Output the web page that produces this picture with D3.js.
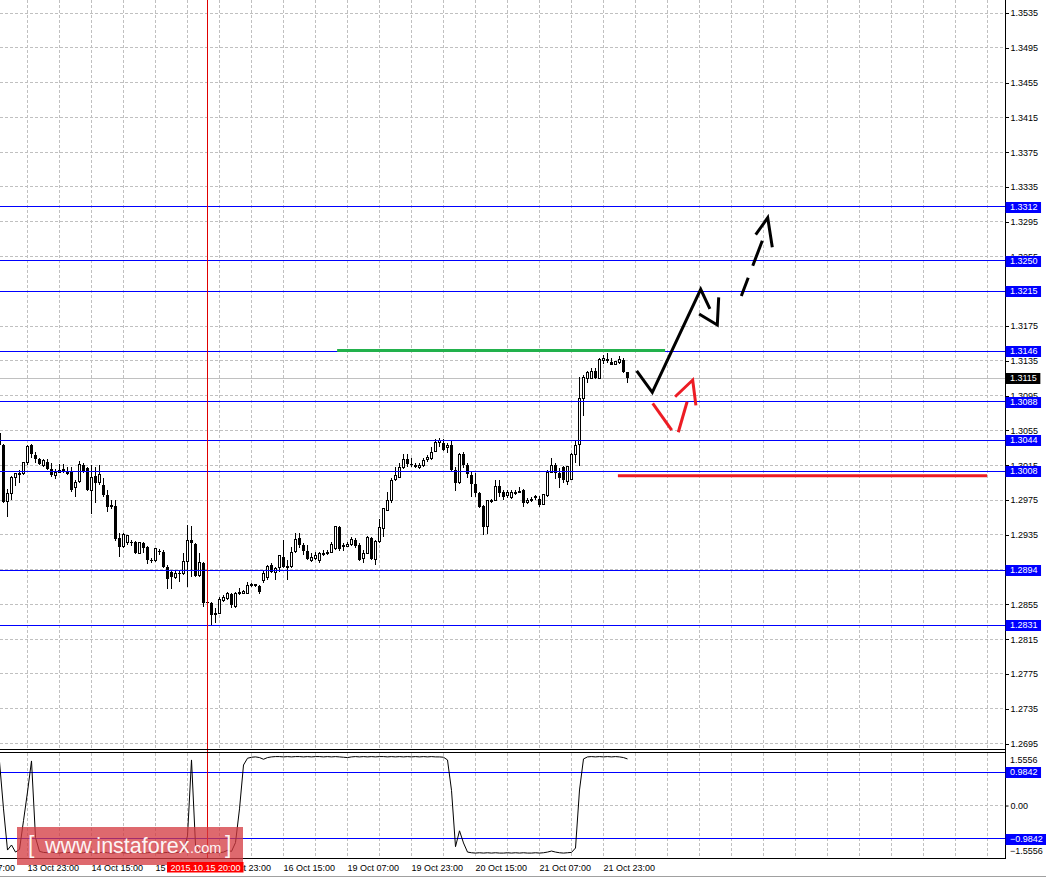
<!DOCTYPE html>
<html>
<head>
<meta charset="utf-8">
<script src="https://cdn.jsdelivr.net/npm/d3@7"></script>
<style>
body { margin: 0; background: #fff; }
svg { display: block; }
text { font-family: "Liberation Sans", Arial, sans-serif; }
</style>
</head>
<body>
<div id="chart"></div>
<script>
// hourly bars, first one is 13 Oct 16:00
var firstBarTime = "13 Oct 16:00";

var opens = [
1.3052,1.3038,1.2973,1.2983,1.3001,1.3005,1.3006,1.3018,1.3038,1.3027,
1.3022,1.3015,1.3019,1.3011,1.3003,1.3007,1.3011,1.3008,1.3007,1.2989,
1.2996,1.3015,1.3012,1.2986,1.3003,1.2995,1.2992,1.2981,1.2969,1.2968,
1.2931,1.2921,1.2926,1.2927,1.2927,1.2914,1.2926,1.2921,1.2906,1.2905,
1.2916,1.2915,1.2898,1.2892,1.2886,1.2891,1.2890,1.2904,1.2929,1.2924,
1.2888,1.2903,1.2858,1.2857,1.2844,1.2845,1.2860,1.2862,1.2867,1.2852,
1.2868,1.2868,1.2868,1.2877,1.2878,1.2876,1.2883,1.2886,1.2900,1.2892,
1.2897,1.2909,1.2898,1.2898,1.2916,1.2931,1.2923,1.2916,1.2906,1.2908,
1.2906,1.2913,1.2914,1.2915,1.2919,1.2944,1.2923,1.2922,1.2924,1.2929,
1.2923,1.2908,1.2914,1.2931,1.2907,1.2927,1.2942,1.2963,1.2975,1.2999,
1.3001,1.3012,1.3022,1.3016,1.3015,1.3012,1.3015,1.3022,1.3023,1.3031,
1.3041,1.3041,1.3035,1.3038,1.3009,1.2995,1.3028,1.3015,1.3004,1.2993,
1.2983,1.2968,1.2944,1.2974,1.2975,1.2991,1.2984,1.2980,1.2978,1.2983,
1.2984,1.2986,1.2972,1.2975,1.2978,1.2976,1.2970,1.2980,1.3007,1.3015,
1.3006,1.3013,1.2996,1.2999,1.3027,1.3039,1.3092,1.3115,1.3115,1.3123,
1.3115,1.3135,1.3136,1.3134,1.3131,1.3133,1.3136,1.3122];

var highs = [
1.3055,1.3039,1.2988,1.3003,1.3006,1.3009,1.3019,1.3038,1.3039,1.3030,
1.3023,1.3022,1.3022,1.3018,1.3011,1.3016,1.3016,1.3013,1.3013,1.2998,
1.3020,1.3018,1.3013,1.3015,1.3013,1.3015,1.3000,1.2986,1.2975,1.2975,
1.2937,1.2937,1.2935,1.2929,1.2928,1.2927,1.2927,1.2922,1.2908,1.2920,
1.2919,1.2917,1.2900,1.2894,1.2893,1.2894,1.2914,1.2946,1.2945,1.2926,
1.2914,1.2904,1.2860,1.2858,1.2851,1.2863,1.2866,1.2869,1.2868,1.2869,
1.2874,1.2871,1.2881,1.2880,1.2879,1.2877,1.2893,1.2900,1.2903,1.2898,
1.2912,1.2929,1.2906,1.2921,1.2937,1.2937,1.2926,1.2923,1.2914,1.2915,
1.2915,1.2917,1.2917,1.2927,1.2945,1.2945,1.2926,1.2927,1.2932,1.2931,
1.2926,1.2917,1.2934,1.2932,1.2929,1.2953,1.2966,1.2984,1.3000,1.3013,
1.3018,1.3028,1.3028,1.3023,1.3018,1.3018,1.3023,1.3027,1.3036,1.3045,
1.3046,1.3045,1.3041,1.3044,1.3013,1.3029,1.3030,1.3018,1.3007,1.3006,
1.2984,1.2969,1.2975,1.2976,1.2998,1.2998,1.2986,1.2986,1.2986,1.2986,
1.2990,1.2988,1.2977,1.2978,1.2981,1.2980,1.2982,1.3009,1.3023,1.3018,
1.3012,1.3014,1.3014,1.3029,1.3044,1.3116,1.3119,1.3123,1.3127,1.3127,
1.3138,1.3142,1.3144,1.3138,1.3135,1.3141,1.3138,1.3122];

var lows = [
1.3036,1.2972,1.2955,1.2975,1.2991,1.2995,1.3004,1.3015,1.3023,1.3018,
1.3015,1.3013,1.3009,1.3001,1.2999,1.3006,1.3006,1.3004,1.2984,1.2978,
1.2995,1.3006,1.2985,1.2959,1.2972,1.2992,1.2978,1.2961,1.2965,1.2928,
1.2909,1.2920,1.2923,1.2922,1.2913,1.2913,1.2914,1.2901,1.2903,1.2904,
1.2912,1.2897,1.2873,1.2873,1.2884,1.2881,1.2889,1.2875,1.2886,1.2886,
1.2886,1.2852,1.2855,1.2830,1.2834,1.2844,1.2858,1.2860,1.2851,1.2851,
1.2866,1.2867,1.2868,1.2875,1.2875,1.2867,1.2880,1.2883,1.2891,1.2883,
1.2892,1.2897,1.2883,1.2897,1.2914,1.2920,1.2912,1.2906,1.2904,1.2906,
1.2903,1.2911,1.2912,1.2914,1.2917,1.2916,1.2916,1.2921,1.2922,1.2920,
1.2905,1.2903,1.2913,1.2906,1.2900,1.2926,1.2932,1.2962,1.2972,1.2997,
1.3000,1.3011,1.3013,1.3013,1.3012,1.3011,1.3013,1.3019,1.3021,1.3030,
1.3036,1.3031,1.3029,1.3008,1.2985,1.2994,1.3012,1.3000,1.2978,1.2978,
1.2966,1.2935,1.2936,1.2972,1.2974,1.2978,1.2975,1.2977,1.2976,1.2981,
1.2983,1.2967,1.2970,1.2973,1.2975,1.2967,1.2969,1.2978,1.3006,1.2999,
1.2989,1.2995,1.2992,1.2998,1.3018,1.3014,1.3072,1.3110,1.3114,1.3114,
1.3114,1.3131,1.3133,1.3130,1.3130,1.3131,1.3121,1.3110];

var closes = [
1.3038,1.2973,1.2983,1.3001,1.3005,1.3006,1.3018,1.3037,1.3028,1.3022,
1.3016,1.3020,1.3011,1.3004,1.3007,1.3009,1.3007,1.3005,1.2986,1.2995,
1.3016,1.3008,1.2986,1.3001,1.2995,1.3004,1.2981,1.2967,1.2967,1.2930,
1.2921,1.2935,1.2934,1.2926,1.2914,1.2926,1.2920,1.2906,1.2905,1.2919,
1.2915,1.2898,1.2884,1.2886,1.2891,1.2890,1.2904,1.2928,1.2926,1.2888,
1.2903,1.2857,1.2857,1.2843,1.2845,1.2861,1.2863,1.2868,1.2854,1.2868,
1.2869,1.2870,1.2877,1.2878,1.2876,1.2869,1.2891,1.2899,1.2892,1.2896,
1.2911,1.2898,1.2899,1.2915,1.2930,1.2923,1.2916,1.2907,1.2909,1.2911,
1.2914,1.2914,1.2915,1.2924,1.2944,1.2919,1.2921,1.2924,1.2930,1.2922,
1.2906,1.2914,1.2932,1.2907,1.2927,1.2943,1.2965,1.2974,1.2998,1.3003,
1.3012,1.3022,1.3016,1.3015,1.3013,1.3015,1.3021,1.3024,1.3030,1.3041,
1.3043,1.3032,1.3038,1.3009,1.2995,1.3027,1.3015,1.3005,1.2993,1.2983,
1.2967,1.2944,1.2974,1.2975,1.2990,1.2983,1.2978,1.2984,1.2984,1.2984,
1.2985,1.2972,1.2975,1.2976,1.2979,1.2969,1.2981,1.3007,1.3015,1.3006,
1.3000,1.2998,1.3013,1.3027,1.3038,1.3092,1.3116,1.3122,1.3123,1.3115,
1.3137,1.3138,1.3137,1.3130,1.3134,1.3137,1.3122,1.3115];

var indicator = [
1.30,-0.10,-1.32,-1.17,-1.38,-1.30,-0.45,0.40,1.32,-0.95,
-1.36,-1.39,-1.40,-1.38,-1.40,-1.41,-1.39,-1.40,-1.38,-1.40,
-1.41,-1.40,-1.37,-1.39,-1.41,-1.40,-1.38,-1.40,-1.41,-1.40,
-1.39,-1.40,-1.41,-1.40,-1.38,-1.40,-1.41,-1.40,-1.39,-1.40,
-1.41,-1.40,-1.39,-1.41,-1.40,-1.38,-1.36,-0.90,1.35,-1.17,
-1.38,-1.40,-1.41,-1.40,-1.39,-1.40,-1.38,-1.33,-1.36,-1.10,
-0.10,1.20,1.40,1.43,1.44,1.42,1.37,1.42,1.44,1.45,
1.45,1.44,1.45,1.44,1.45,1.45,1.44,1.45,1.44,1.45,
1.45,1.44,1.45,1.44,1.45,1.44,1.43,1.42,1.44,1.45,
1.44,1.45,1.44,1.45,1.44,1.45,1.45,1.44,1.45,1.44,
1.45,1.44,1.45,1.44,1.45,1.44,1.45,1.44,1.45,1.44,
1.44,1.43,1.35,0.45,-1.22,-0.75,-1.11,-1.38,-1.40,-1.41,
-1.40,-1.41,-1.40,-1.41,-1.40,-1.41,-1.41,-1.40,-1.41,-1.40,
-1.41,-1.40,-1.41,-1.41,-1.40,-1.41,-1.40,-1.38,-1.35,-1.38,
-1.40,-1.41,-1.40,-1.39,-1.26,0.46,1.38,1.44,1.45,1.44,
1.45,1.44,1.45,1.44,1.45,1.44,1.42,1.38];

var priceTicks = [1.2695,1.2735,1.2775,1.2815,1.2855,1.2895,1.2935,1.2975,1.3015,1.3055,1.3095,
                  1.3135,1.3175,1.3215,1.3255,1.3295,1.3335,1.3375,1.3415,1.3455,1.3495,1.3535];
var levels = [1.3312,1.3250,1.3215,1.3146,1.3088,1.3044,1.3008,1.2894,1.2831];
var indLevels = [0.9842,-0.9842];
var indMax = 1.5556;
var timeLabels = ["13 Oct 07:00","13 Oct 23:00","14 Oct 15:00","15 Oct 07:00","15 Oct 23:00",
                  "16 Oct 15:00","19 Oct 07:00","19 Oct 23:00","20 Oct 15:00","21 Oct 07:00","21 Oct 23:00"];
var crossTime = "15 Oct 20:00";

// hand drawn marks, as [bar index, price]
var greenLine = [[100.4,1.3147],[182.4,1.3147]];
var redLine = [[170.6,1.3003],[262.9,1.3003]];
var blackPath1 = [[175.3,1.31234],[179.2,1.30989],[191.3,1.32173],[193.6,1.31947]];
var blackPath2 = [[190.9,1.31889],[195.45,1.31763],[195.8,1.32081]];
var blackDashed = [[201.45,1.32096],[206.7,1.32732]];
var blackHead = [[205.05,1.32801],[208.05,1.32996],[209.2,1.32656]];
var redPath1 = [[179.3,1.30862],[184.05,1.30555]];
var redPath2 = [[185.7,1.30529],[187.9,1.30880]];
var redHead = [[184.9,1.30938],[189.3,1.31130],[190.1,1.30839]];

var W = 1046, H = 879;
var plotRight = 1005.5;
var mainBottom = 749;
var indTop = 753, indBottom = 858;
var blue = "#0000ff";

function crisp(v){ return Math.round(v - 0.5) + 0.5; }

function drawChart(){
	var svg = d3.select("#chart").append("svg")
		.attr("width", W)
		.attr("height", H);

	// hourly timeline without weekends
	var barTimes = [];
	var t = Date.UTC(2015, 9, 13, 0);
	while (barTimes.length < 320) {
		var d = new Date(t);
		if (d.getUTCDay() != 0 && d.getUTCDay() != 6) barTimes.push(d);
		t += 3600000;
	}
	var fmtTime = d3.utcFormat("%d %b %H:%M");
	var keys = barTimes.map(fmtTime);
	function idx(label){ return keys.indexOf(label); }

	var first = idx(firstBarTime);
	var last = first + opens.length - 1;

	var x = d3.scaleLinear().domain([last - 1, last]).range([623.5, 627.5]);
	var y = d3.scaleLinear().domain([1.26887, 1.35500]).range([mainBottom, 0]);
	var yInd = d3.scaleLinear().domain([-indMax, indMax]).range([indBottom, indTop]);

	var bars = opens.map(function(o, i){
		return {i: first + i, o: o, h: highs[i], l: lows[i], c: closes[i], v: indicator[i]};
	});

	svg.append("defs").append("clipPath").attr("id", "mainclip")
		.append("rect").attr("x", 0).attr("y", 0).attr("width", plotRight).attr("height", mainBottom);
	svg.append("defs").append("clipPath").attr("id", "indclip")
		.append("rect").attr("x", 0).attr("y", indTop).attr("width", plotRight).attr("height", indBottom - indTop);

	// grid
	var grid = svg.append("g").attr("stroke", "#c0c0c0").attr("stroke-dasharray", "3,2").attr("shape-rendering", "crispEdges");
	var gridIdx = barTimes.map(function(d, i){ return i; }).filter(function(i){
		return barTimes[i].getUTCHours() % 8 == 7 && x(i) > 0 && x(i) < plotRight;
	});
	grid.selectAll(".vg").data(gridIdx).enter().append("line")
		.attr("x1", function(i){ return x(i); }).attr("x2", function(i){ return x(i); })
		.attr("y1", 0).attr("y2", mainBottom);
	grid.selectAll(".vgi").data(gridIdx).enter().append("line")
		.attr("x1", function(i){ return x(i); }).attr("x2", function(i){ return x(i); })
		.attr("y1", indTop).attr("y2", indBottom);
	grid.selectAll(".hg").data(priceTicks).enter().append("line")
		.attr("x1", 0).attr("x2", plotRight)
		.attr("y1", function(p){ return crisp(y(p)); }).attr("y2", function(p){ return crisp(y(p)); });
	grid.append("line").attr("x1", 0).attr("x2", plotRight)
		.attr("y1", crisp(yInd(0))).attr("y2", crisp(yInd(0)));

	var g = svg.append("g").attr("clip-path", "url(#mainclip)");

	// bid line
	var lastClose = closes[closes.length - 1];
	g.append("line").attr("x1", 0).attr("x2", plotRight)
		.attr("y1", crisp(y(lastClose))).attr("y2", crisp(y(lastClose)))
		.attr("stroke", "#c0c0c0").attr("shape-rendering", "crispEdges");

	// candles
	var candle = g.append("g").attr("shape-rendering", "crispEdges")
		.selectAll("g").data(bars).enter().append("g");
	candle.append("line")
		.attr("x1", function(d){ return x(d.i); }).attr("x2", function(d){ return x(d.i); })
		.attr("y1", function(d){ return y(d.h); }).attr("y2", function(d){ return y(d.l); })
		.attr("stroke", "#000");
	candle.append("rect")
		.attr("x", function(d){ return (d.c > d.o) ? x(d.i) - 1 : x(d.i) - 1.5; })
		.attr("y", function(d){ return y(Math.max(d.o, d.c)); })
		.attr("width", function(d){ return (d.c > d.o) ? 2 : 3; })
		.attr("height", function(d){ return Math.max(1, y(Math.min(d.o, d.c)) - y(Math.max(d.o, d.c))); })
		.attr("fill", function(d){ return (d.c > d.o) ? "#fff" : "#000"; })
		.attr("stroke", function(d){ return (d.c > d.o) ? "#000" : "none"; });

	// horizontal levels
	g.selectAll(".lvl").data(levels).enter().append("line")
		.attr("x1", 0).attr("x2", plotRight)
		.attr("y1", function(p){ return crisp(y(p)); }).attr("y2", function(p){ return crisp(y(p)); })
		.attr("stroke", blue).attr("shape-rendering", "crispEdges");

	// drawings
	var line = d3.line().x(function(d){ return x(d[0]); }).y(function(d){ return y(d[1]); });
	g.append("path").attr("d", line(greenLine)).attr("stroke", "#22b14c").attr("stroke-width", 3).attr("fill", "none");
	g.append("path").attr("d", line(redLine)).attr("stroke", "#ed1c24").attr("stroke-width", 3).attr("fill", "none");
	[blackPath1, blackPath2, blackHead].forEach(function(p){
		g.append("path").attr("d", line(p)).attr("stroke", "#000").attr("stroke-width", 3).attr("fill", "none");
	});
	g.append("path").attr("d", line(blackDashed)).attr("stroke", "#000").attr("stroke-width", 3)
		.attr("stroke-dasharray", "19.5,12.8,27,100").attr("fill", "none");
	[redPath1, redPath2, redHead].forEach(function(p){
		g.append("path").attr("d", line(p)).attr("stroke", "#ed1c24").attr("stroke-width", 3).attr("fill", "none");
	});

	// indicator panel
	var gi = svg.append("g").attr("clip-path", "url(#indclip)");
	gi.selectAll(".il").data(indLevels).enter().append("line")
		.attr("x1", 0).attr("x2", plotRight)
		.attr("y1", function(v){ return crisp(yInd(v)); }).attr("y2", function(v){ return crisp(yInd(v)); })
		.attr("stroke", blue).attr("shape-rendering", "crispEdges");
	var indLine = d3.line().x(function(d){ return x(d.i); }).y(function(d){ return yInd(d.v); });
	gi.append("path").attr("d", indLine(bars)).attr("stroke", "#000").attr("stroke-width", 1).attr("fill", "none");

	// crosshair
	var cx = x(idx(crossTime));
	svg.append("line").attr("x1", cx).attr("x2", cx).attr("y1", 0).attr("y2", indBottom)
		.attr("stroke", "#e00000").attr("shape-rendering", "crispEdges");

	// frames
	var frame = svg.append("g").attr("stroke", "#000").attr("shape-rendering", "crispEdges");
	frame.append("line").attr("x1", 0).attr("x2", plotRight).attr("y1", mainBottom + 0.5).attr("y2", mainBottom + 0.5);
	frame.append("line").attr("x1", 0).attr("x2", plotRight).attr("y1", indTop - 0.5).attr("y2", indTop - 0.5);
	frame.append("line").attr("x1", 0).attr("x2", plotRight).attr("y1", indBottom + 0.5).attr("y2", indBottom + 0.5);
	frame.append("line").attr("x1", plotRight).attr("x2", plotRight).attr("y1", 0).attr("y2", indBottom + 0.5);
	svg.append("line").attr("x1", 0).attr("x2", W).attr("y1", 876.5).attr("y2", 876.5)
		.attr("stroke", "#a0a0a0").attr("shape-rendering", "crispEdges");

	// price axis
	var axis = d3.axisRight(y).tickValues(priceTicks).tickFormat(d3.format(".4f"))
		.tickSize(3).tickPadding(2).tickSizeOuter(0);
	var ga = svg.append("g").attr("transform", "translate(" + plotRight + ",0)").call(axis);
	ga.select(".domain").remove();
	ga.attr("font-family", "Liberation Sans, Arial, sans-serif").attr("font-size", 9);
	ga.selectAll("line").attr("shape-rendering", "crispEdges");

	// indicator axis
	var ia = d3.axisRight(yInd).tickValues([0]).tickFormat(d3.format(".2f")).tickSize(3).tickPadding(2).tickSizeOuter(0);
	var gia = svg.append("g").attr("transform", "translate(" + plotRight + ",0)").call(ia);
	gia.select(".domain").remove();
	gia.attr("font-family", "Liberation Sans, Arial, sans-serif").attr("font-size", 9);
	svg.append("text").attr("x", plotRight + 4.5).attr("y", yInd(indMax) + 7).attr("dy", "0.32em")
		.attr("font-size", 9).text(d3.format(".4f")(indMax));
	svg.append("text").attr("x", plotRight + 4.5).attr("y", yInd(-indMax) - 7).attr("dy", "0.32em")
		.attr("font-size", 9).text(d3.format(".4f")(-indMax));

	// value boxes on the axis
	function valueBox(v, scale, colour){
		var yy = Math.round(scale(v));
		var bg = svg.append("g");
		var r = bg.append("rect").attr("x", plotRight).attr("y", yy - 5).attr("height", 11).attr("fill", colour);
		var tx = bg.append("text").attr("x", plotRight + 4.5).attr("y", yy + 0.5).attr("dy", "0.32em")
			.attr("font-size", 9).attr("fill", "#fff").text(d3.format(".4f")(v));
		r.attr("width", tx.node().getComputedTextLength() + 8);
	}
	levels.forEach(function(v){ valueBox(v, y, blue); });
	valueBox(lastClose, y, "#000");
	indLevels.forEach(function(v){ valueBox(v, yInd, blue); });

	// time axis
	svg.append("g").selectAll("text").data(timeLabels).enter().append("text")
		.attr("x", function(s){ return x(idx(s)); })
		.attr("y", 870.5)
		.attr("font-size", 9)
		.text(function(s){ return s; });

	// watermark
	var logo = svg.append("g");
	logo.append("rect").attr("x", 17).attr("y", 827).attr("width", 226).attr("height", 38)
		.attr("fill", "rgb(212,58,64)").attr("fill-opacity", 0.76);
	var lt = logo.append("g").attr("fill", "#fff").attr("fill-opacity", 0.95);
	lt.append("text").attr("x", 28).attr("y", 853).attr("font-size", 23).text("[");
	lt.append("text").attr("x", 45).attr("y", 853).attr("font-size", 21.5).text("www.instaforex");
	lt.append("text").attr("x", 190).attr("y", 853).attr("font-size", 14.5).text(".com");
	lt.append("text").attr("x", 225).attr("y", 853).attr("font-size", 23).text("]");

	// crosshair date label
	var fmtFull = d3.utcFormat("%Y.%m.%d %H:%M");
	svg.append("rect").attr("x", cx - 40.5).attr("y", 862).attr("width", 76.5).attr("height", 10.5).attr("fill", "#ff0000");
	svg.append("text").attr("x", cx - 2).attr("y", 870.5).attr("text-anchor", "middle")
		.attr("font-size", 9).attr("fill", "#fff").text(fmtFull(barTimes[idx(crossTime)]));
}

drawChart()
</script>
</body>
</html>
